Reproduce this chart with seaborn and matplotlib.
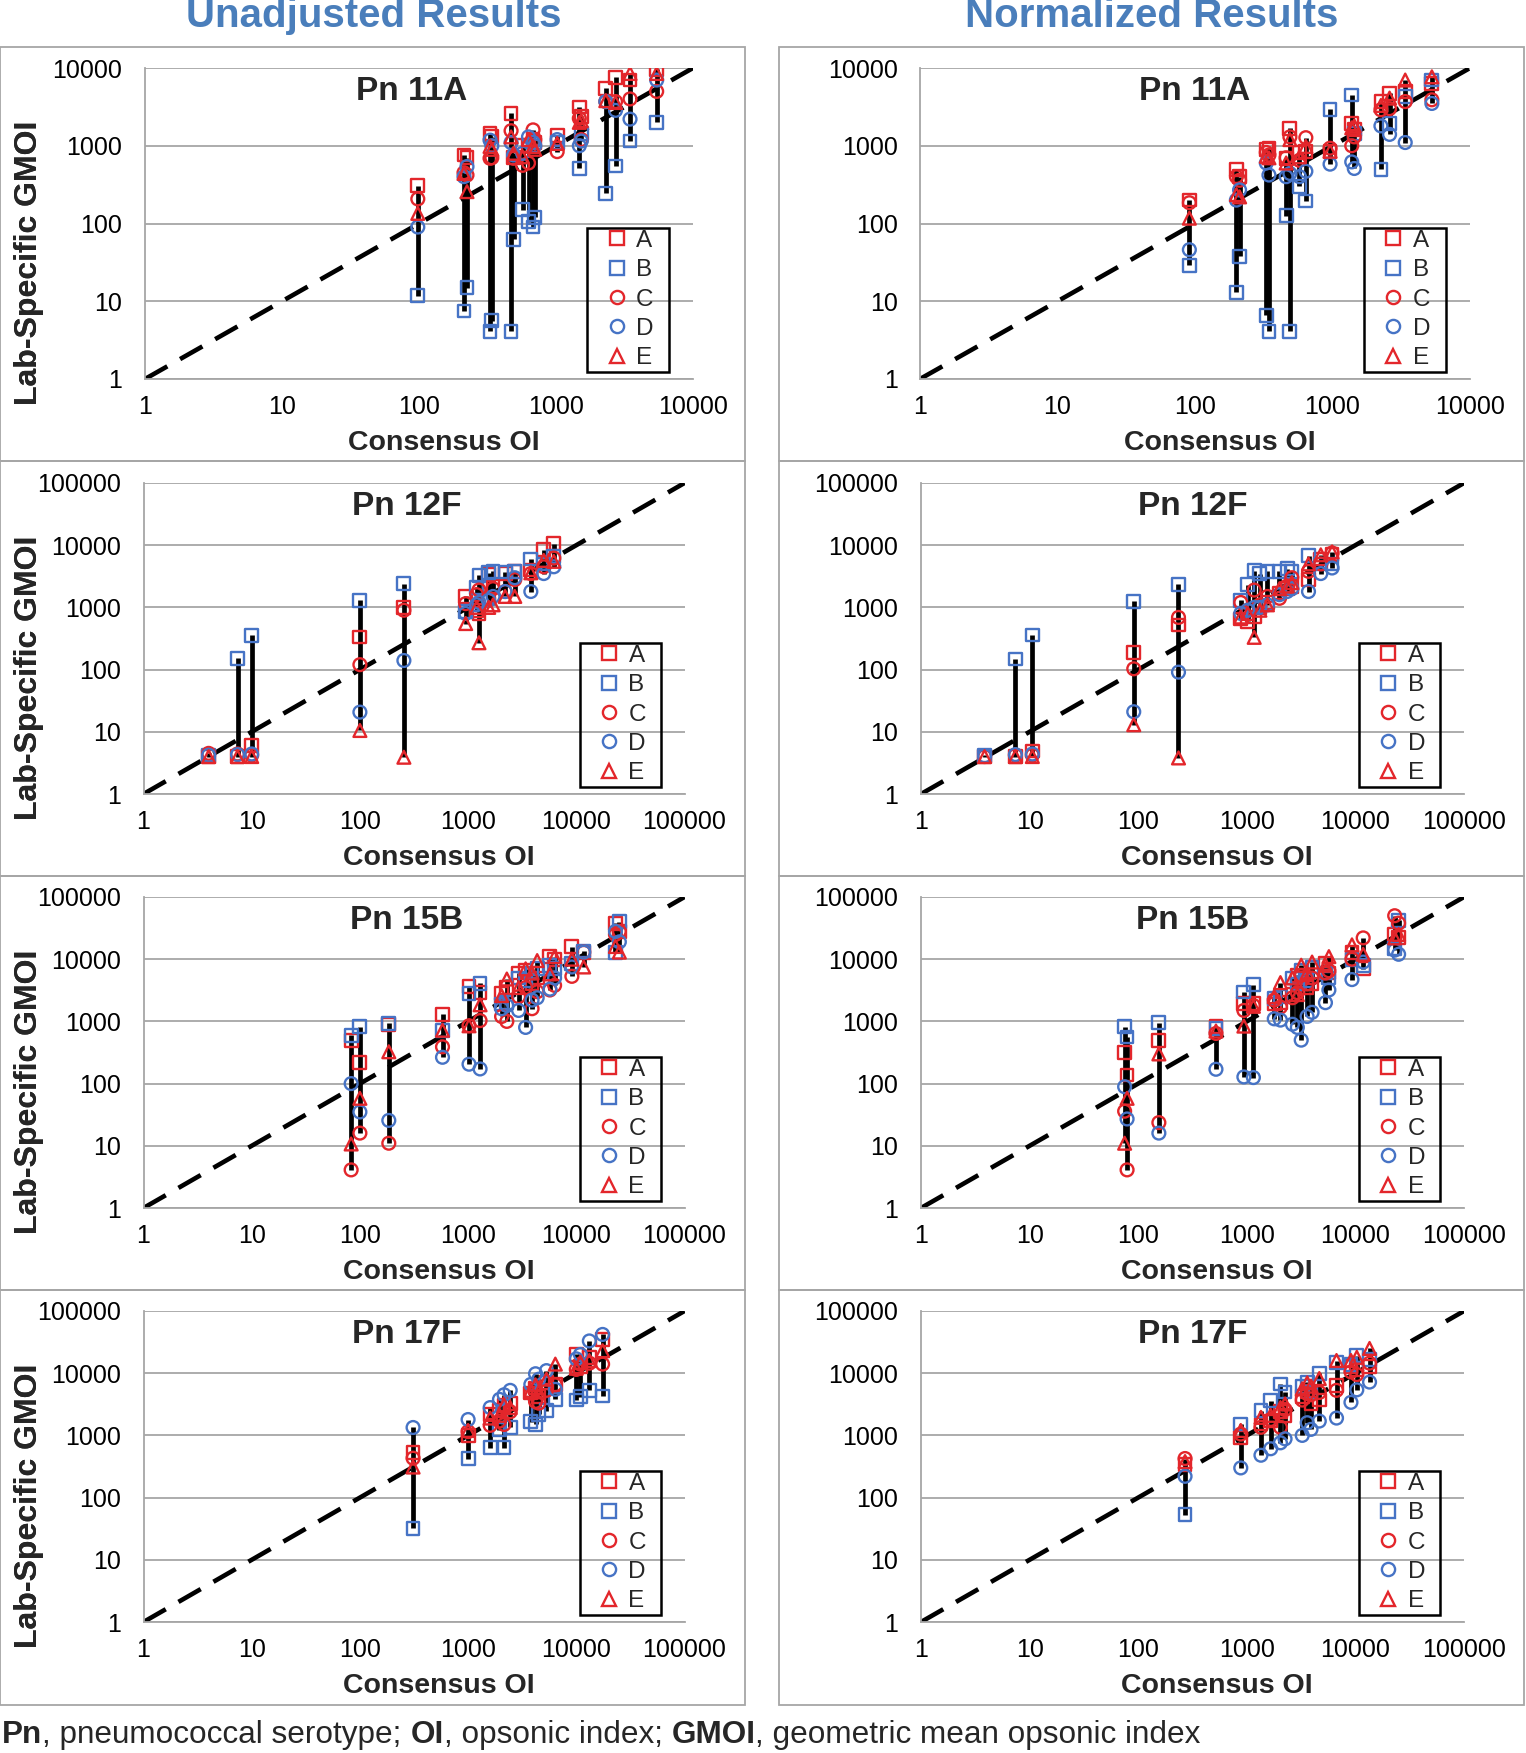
import numpy as np
import pandas as pd
import matplotlib
matplotlib.use("Agg")
import matplotlib.pyplot as plt
import seaborn as sns
from matplotlib.lines import Line2D
from matplotlib.patches import Rectangle
from matplotlib.ticker import NullLocator

# ---- data (consensus OI and lab-specific GMOI per lab) ----
# Pn 11A, unadjusted
u11a_x = [98, 213, 224, 330, 340, 470, 490, 570, 630, 680, 700, 1020, 1480, 1530, 2310, 2720, 3470, 5430]
u11a_A = [308, 760, 700, 1450, 1300, 2600, 700, 1000, 1000, 1200, 1100, 1370, 3150, 2400, 5450, 7550, 7000, 9600]
u11a_B = [11.8, 7.5, 15, 4.1, 5.6, 4.1, 63, 150, 105, 90, 120, 1100, 510, 1450, 245, 550, 1150, 2000]
u11a_C = [207, 450, 420, 690, 700, 1560, 690, 560, 600, 1600, 1200, 840, 2250, 1200, 3700, 3700, 4000, 5000]
u11a_D = [90, 400, 540, 1180, 1000, 1100, 760, 800, 1300, 1100, 1000, 1200, 1000, 1150, 3700, 2850, 2200, 7000]
u11a_E = [135, 440, 257, 980, 900, 1300, 800, 720, 1200, 980, 900, 1070, 2000, 2100, 3800, 3600, 8500, 8500]

# Pn 11A, normalized
n11a_x = [91, 200, 211, 330, 345, 460, 490, 575, 640, 960, 1380, 1440, 2250, 2600, 3380, 5280]
n11a_A = [200, 490, 400, 890, 930, 680, 1670, 810, 850, 850, 1950, 1600, 3700, 4700, 5000, 6300]
n11a_B = [29, 13, 38, 6.6, 4.1, 126, 4.1, 300, 195, 2950, 4500, 1450, 500, 1950, 4300, 7000]
n11a_C = [185, 400, 360, 820, 760, 700, 1300, 650, 1270, 930, 1000, 1300, 2900, 3000, 3700, 3900]
n11a_D = [46, 200, 270, 600, 420, 400, 440, 400, 470, 580, 620, 510, 1800, 1400, 1100, 3500]
n11a_E = [117, 235, 220, 730, 700, 600, 1200, 720, 980, 850, 1700, 1800, 3300, 4100, 7000, 7700]

# Pn 12F, unadjusted
u12f_x = [4.0, 7.4, 10, 100, 255, 950, 1200, 1260, 1550, 1700, 2200, 2700, 3800, 5000, 6200]
u12f_A = [4.0, 4.0, 6.0, 335, 1000, 1500, 900, 800, 3400, 2200, 3500, 3800, 4000, 8500, 10500]
u12f_B = [4.2, 153, 355, 1300, 2400, 850, 2100, 3300, 3600, 3800, 3700, 3800, 6000, 5000, 6500]
u12f_C = [4.5, 4.4, 4.2, 120, 900, 1150, 1600, 1900, 1400, 2000, 1800, 2800, 3500, 4500, 6200]
u12f_D = [4.2, 4.3, 4.4, 20.7, 140, 800, 1100, 1200, 1300, 1500, 1800, 3000, 1800, 3500, 4500]
u12f_E = [4.0, 4.0, 4.0, 10.5, 3.9, 550, 1000, 270, 1000, 1100, 1500, 1500, 3600, 5700, 5500]

# Pn 12F, normalized
n12f_x = [3.85, 7.4, 10.6, 91, 235, 880, 1020, 1170, 1320, 1550, 2000, 2350, 2600, 3700, 4800, 6100]
n12f_A = [4.0, 4.0, 4.9, 190, 520, 650, 600, 700, 1000, 1200, 1700, 2000, 2200, 2800, 6000, 7000]
n12f_B = [4.2, 148, 360, 1260, 2350, 1300, 2300, 3900, 3500, 3800, 3800, 4200, 3800, 6800, 5000, 5000]
n12f_C = [4.0, 4.2, 4.2, 103, 690, 1200, 900, 1900, 1100, 1500, 1400, 2200, 3000, 3800, 5000, 7500]
n12f_D = [4.1, 4.3, 4.4, 21, 91, 800, 900, 1000, 1000, 1100, 1600, 1800, 2000, 1800, 3500, 4300]
n12f_E = [4.0, 4.0, 4.0, 13, 3.8, 700, 800, 330, 900, 1100, 2000, 2200, 2500, 5000, 7000, 7800]

# Pn 15B, unadjusted
u15b_x = [83, 100, 185, 580, 1020, 1290, 2040, 2280, 2930, 3400, 3900, 4350, 5700, 6300, 9100, 11700, 23000, 25000]
u15b_A = [500, 220, 900, 1300, 3600, 2950, 2800, 3500, 6000, 6500, 4000, 5000, 11000, 10000, 16000, 13000, 38000, 28000]
u15b_B = [600, 820, 930, 720, 2800, 4100, 1900, 2000, 5000, 4500, 6000, 7000, 8000, 7000, 8500, 13500, 13000, 40000]
u15b_C = [4.1, 16, 11, 390, 850, 1030, 1200, 1000, 2500, 3500, 1600, 3000, 3200, 3800, 5300, 13000, 25000, 28000]
u15b_D = [100, 35, 25.6, 265, 205, 172, 1600, 1800, 1500, 800, 2200, 2400, 3300, 5000, 7500, 13000, 28000, 19000]
u15b_E = [10.7, 58, 325, 720, 850, 1850, 2600, 4800, 3500, 7000, 6000, 9500, 5800, 11000, 10000, 7500, 16000, 13000]

# Pn 15B, normalized
n15b_x = [75, 79, 155, 520, 940, 1150, 1790, 2040, 2630, 2920, 3170, 3590, 3990, 5300, 5700, 9300, 11800, 23000, 25000]
n15b_A = [320, 137, 500, 820, 1950, 1950, 1900, 2000, 2700, 5500, 5000, 3500, 4000, 8500, 6000, 13000, 7000, 25000, 22000]
n15b_B = [820, 560, 960, 760, 2960, 3900, 2300, 2500, 5000, 4000, 6500, 4500, 7500, 6000, 5000, 10000, 8000, 15000, 42000]
n15b_C = [36, 4.1, 23.6, 640, 1500, 1800, 2200, 1700, 2400, 2900, 5500, 4000, 5000, 6000, 6500, 10000, 22000, 50000, 38000]
n15b_D = [89, 27, 16, 170, 128, 125, 1100, 1050, 900, 800, 500, 1200, 1400, 2000, 3200, 4700, 9000, 14000, 12000]
n15b_E = [11, 58, 300, 700, 840, 1750, 2500, 4200, 5000, 2700, 8000, 6000, 9000, 8000, 11000, 17000, 12000, 22000, 25000]

# Pn 17F, unadjusted
u17f_x = [310, 1000, 1600, 1950, 2150, 2450, 3800, 4200, 4500, 5300, 6400, 10000, 10900, 13200, 17500]
u17f_A = [530, 1000, 2200, 2500, 3000, 3300, 4800, 5800, 4200, 7000, 6500, 20000, 13000, 18000, 35000]
u17f_B = [32, 425, 630, 1230, 630, 1350, 1650, 1500, 2200, 2500, 3800, 3700, 4200, 5300, 4300]
u17f_C = [430, 1150, 1450, 1700, 1500, 2400, 4800, 3500, 3300, 5300, 6500, 11500, 14000, 14500, 14000]
u17f_D = [1340, 1800, 2800, 3800, 4500, 5300, 6600, 9800, 8000, 11000, 5500, 17000, 20000, 33000, 42000]
u17f_E = [310, 1200, 1900, 2100, 3100, 2800, 5300, 6500, 5000, 8000, 14000, 12000, 15000, 16000, 23000]

# Pn 17F, normalized
n17f_x = [270, 880, 1350, 1660, 2040, 2250, 3240, 3600, 3900, 4650, 6700, 9100, 10300, 13500]
n17f_A = [340, 930, 1520, 1700, 2400, 2100, 4200, 5100, 3300, 3700, 6300, 13000, 11500, 13000]
n17f_B = [53, 1520, 2500, 3600, 6700, 5000, 6200, 7200, 5000, 9900, 15000, 14000, 19000, 16500]
n17f_C = [425, 1050, 1350, 1800, 1350, 2600, 3700, 4700, 4500, 4900, 5300, 10500, 9500, 14500]
n17f_D = [220, 300, 480, 610, 760, 880, 1000, 1600, 1250, 1700, 1900, 3400, 5400, 7200]
n17f_E = [380, 1200, 1950, 2100, 2800, 3200, 5600, 7000, 6200, 8200, 16000, 16000, 18000, 25000]

labs = ['A', 'B', 'C', 'D', 'E']
RED = '#e3262b'
BLUE = '#4673c5'
GRID = '#a6a6a6'
lab_colors = {'A': RED, 'B': BLUE, 'C': RED, 'D': BLUE, 'E': RED}
lab_markers = {'A': 's', 'B': 's', 'C': 'o', 'D': 'o', 'E': '^'}


def make_frame(x, a, b, c, d, e):
    df = pd.DataFrame({'consensus': x, 'A': a, 'B': b, 'C': c, 'D': d, 'E': e})
    return df.melt(id_vars='consensus', var_name='lab', value_name='gmoi')


panels = [
    (0, 0, 'Pn 11A', make_frame(u11a_x, u11a_A, u11a_B, u11a_C, u11a_D, u11a_E), 4),
    (0, 1, 'Pn 11A', make_frame(n11a_x, n11a_A, n11a_B, n11a_C, n11a_D, n11a_E), 4),
    (1, 0, 'Pn 12F', make_frame(u12f_x, u12f_A, u12f_B, u12f_C, u12f_D, u12f_E), 5),
    (1, 1, 'Pn 12F', make_frame(n12f_x, n12f_A, n12f_B, n12f_C, n12f_D, n12f_E), 5),
    (2, 0, 'Pn 15B', make_frame(u15b_x, u15b_A, u15b_B, u15b_C, u15b_D, u15b_E), 5),
    (2, 1, 'Pn 15B', make_frame(n15b_x, n15b_A, n15b_B, n15b_C, n15b_D, n15b_E), 5),
    (3, 0, 'Pn 17F', make_frame(u17f_x, u17f_A, u17f_B, u17f_C, u17f_D, u17f_E), 5),
    (3, 1, 'Pn 17F', make_frame(n17f_x, n17f_A, n17f_B, n17f_C, n17f_D, n17f_E), 5),
]

sns.set_theme(style="white")
plt.rcParams['font.family'] = ['Liberation Sans', 'DejaVu Sans']

W, H = 1526, 1753
fig = plt.figure(figsize=(W / 100, H / 100), dpi=100)

# pixel layout of the reference: (left, width) per column, for 4- and 5-decade panels
ax_x = {(0, 4): (145, 548), (0, 5): (143.5, 541), (1, 4): (920, 550), (1, 5): (921, 543)}
ax_top = [68, 483, 897, 1311]
ax_height = 311
box_x = [(0, 745), (779, 1524)]
box_y = [47, 461, 876, 1290, 1705]

# panel frames
for (x0, x1) in box_x:
    for r in range(4):
        y0, y1 = box_y[r], box_y[r + 1]
        fig.add_artist(Rectangle((x0 / W, 1 - y1 / H), (x1 - x0) / W, (y1 - y0) / H,
                                 transform=fig.transFigure, fill=False,
                                 edgecolor=GRID, linewidth=1.3))

for row, col, title, df, ndec in panels:
    left, width = ax_x[(col, ndec)]
    ax = fig.add_axes([left / W, 1 - (ax_top[row] + ax_height) / H, width / W, ax_height / H])
    ax.set_xscale('log')
    ax.set_yscale('log')

    # black range line for each sample
    rng = df.groupby('consensus')['gmoi'].agg(['min', 'max']).reset_index()
    ax.vlines(rng['consensus'], rng['min'], rng['max'], colors='black', linewidth=3.4, zorder=2)

    # identity line
    top = 10 ** ndec
    ax.plot([1, top], [1, top], color='black', linestyle=(0, (5.6, 3.2)), linewidth=3.3, zorder=1)

    for lab in labs:
        sub = df[df['lab'] == lab]
        sns.scatterplot(data=sub, x='consensus', y='gmoi', ax=ax, marker=lab_markers[lab],
                        color=lab_colors[lab], facecolor='none', edgecolor=lab_colors[lab],
                        linewidth=1.7, s=85, legend=False, zorder=3)

    decades = [10 ** i for i in range(ndec + 1)]
    ax.set_xlim(1, top)
    ax.set_ylim(1, top)
    ax.set_xticks(decades)
    ax.set_xticklabels([str(d) for d in decades])
    ax.set_yticks(decades)
    ax.set_yticklabels([str(d) for d in decades])
    ax.xaxis.set_minor_locator(NullLocator())
    ax.yaxis.set_minor_locator(NullLocator())
    ax.tick_params(axis='both', labelsize=18, colors=GRID, labelcolor='black',
                   length=5.7, width=1.3, direction='out')
    ax.tick_params(axis='x', pad=6)
    ax.tick_params(axis='y', pad=10.5)
    ax.grid(False)
    ax.yaxis.grid(True, color=GRID, linewidth=1.3)
    ax.set_axisbelow(True)
    for side in ['top', 'right']:
        ax.spines[side].set_visible(False)
    for side in ['left', 'bottom']:
        ax.spines[side].set_color(GRID)
        ax.spines[side].set_linewidth(1.3)

    ax.set_xlabel('Consensus OI', fontsize=20.5, fontweight='bold', va='center')
    ax.xaxis.set_label_coords(0.545, -0.205)
    ax.set_ylabel('Lab-Specific GMOI', fontsize=23, fontweight='bold')
    ax.yaxis.set_label_coords(-(left - 44.5) / width, 0.374)

    ax.text(0.487 if col == 0 else 0.5, 0.926, title, transform=ax.transAxes,
            ha='center', va='center', fontsize=24, fontweight='bold')

    # legend: entries centred in a black box on the right of the plot
    bx0, by0, bw, bh = 0.807, 0.024, 0.149, 0.463
    handles = [Line2D([], [], marker=lab_markers[l], linestyle='none', markerfacecolor='none',
                      markeredgecolor=lab_colors[l], markeredgewidth=1.7, markersize=9.5)
               for l in labs]
    ax.legend(handles, labs, loc='center', bbox_to_anchor=(bx0 + 0.003, by0, bw, bh),
              bbox_transform=ax.transAxes, fontsize=17.5, frameon=False,
              handlelength=0.9, handletextpad=0.35, borderpad=0.0,
              labelspacing=0.3, borderaxespad=0)
    ax.add_patch(Rectangle((bx0, by0), bw, bh, transform=ax.transAxes, fill=False,
                           edgecolor='black', linewidth=1.8, zorder=5, clip_on=False))

# column headings
fig.text(374 / W, 1 - 27 / H, 'Unadjusted Results', ha='center', va='baseline',
         fontsize=29, fontweight='bold', color='#4a7ebb')
fig.text(1152 / W, 1 - 27 / H, 'Normalized Results', ha='center', va='baseline',
         fontsize=29, fontweight='bold', color='#4a7ebb')

# footnote with bold abbreviations
pieces = [('Pn', 'bold'), (', pneumococcal serotype; ', 'normal'), ('OI', 'bold'),
          (', opsonic index; ', 'normal'), ('GMOI', 'bold'),
          (', geometric mean opsonic index', 'normal')]
prev = fig.text(2 / W, 1 - 1743 / H, pieces[0][0], ha='left', va='baseline',
                fontsize=22.7, fontweight=pieces[0][1])
anchor_ax = fig.axes[0]
for txt, wt in pieces[1:]:
    prev = anchor_ax.annotate(txt, xy=(1, 0), xycoords=prev, ha='left', va='bottom',
                              fontsize=22.7, fontweight=wt, annotation_clip=False)

fig.savefig('out.png', dpi=100)
